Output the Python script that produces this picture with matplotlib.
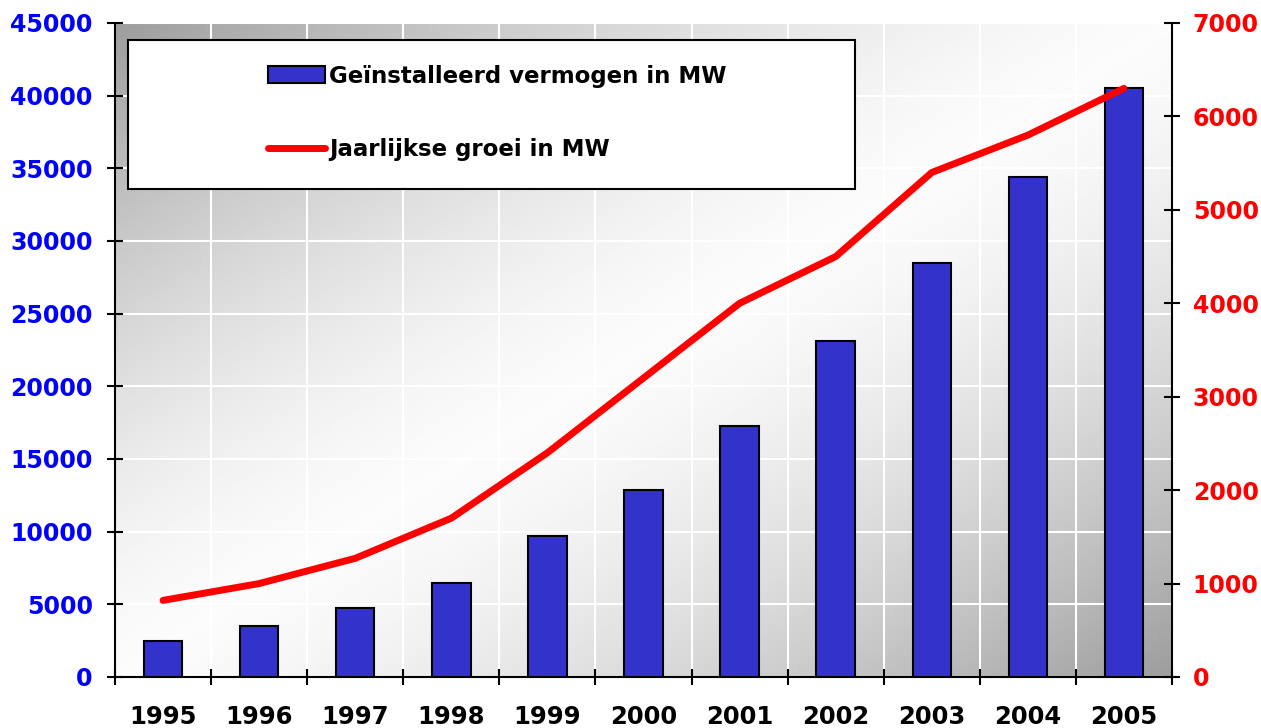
import numpy as np
import matplotlib
matplotlib.use("Agg")
import matplotlib.pyplot as plt
from matplotlib.patches import Rectangle

years = ["1995", "1996", "1997", "1998", "1999", "2000", "2001", "2002", "2003", "2004", "2005"]
installed_mw = [2500, 3500, 4750, 6500, 9700, 12900, 17300, 23100, 28500, 34370, 40500]
growth_mw = [820, 1000, 1270, 1700, 2400, 3200, 4000, 4500, 5400, 5800, 6300]
left_ticks = list(range(0, 45001, 5000))
right_ticks = list(range(0, 7001, 1000))
label_bar = "Geïnstalleerd vermogen in MW"
label_line = "Jaarlijkse groei in MW"

plt.rcParams['font.family'] = ['DejaVu Sans']
plt.rcParams['font.weight'] = 'bold'

fig = plt.figure(figsize=(12.61, 7.28), dpi=100)
ax = fig.add_axes([115/1261, 1-677/728, (1172-115)/1261, (677-23)/728])
ax2 = ax.twinx()

# gradient background
H, W = 300, 500
xx = np.linspace(0, 1, W)[None, :]
yy = np.linspace(1, 0, H)[:, None]
d = np.abs(xx - yy)
grad = 0.985 - 0.37 * d**1.5
ax.imshow(grad, extent=[0, 1, 0, 1], transform=ax.transAxes, aspect='auto',
          cmap='gray', vmin=0, vmax=1, zorder=0, origin='upper', interpolation='bilinear')

x = np.arange(len(years))
bars = ax.bar(x, installed_mw, width=0.4, color='#3333cc', edgecolor='black', linewidth=1.5, zorder=3)
line, = ax2.plot(x, growth_mw, color='#ff0000', lw=5, solid_capstyle='round',
                 solid_joinstyle='round', zorder=3)

ax.set_xlim(-0.5, len(years) - 0.5)
ax.set_ylim(0, 45000)
ax2.set_ylim(0, 7000)

ax.set_xticks(x)
ax.set_xticklabels(years, fontsize=17.5, fontweight='bold', color='black')
ax.set_xticks(np.arange(-0.5, len(years), 1.0), minor=True)
ax.tick_params(axis='x', which='major', length=0, pad=20)
ax.tick_params(axis='x', which='minor', length=12, width=1.5, direction='inout', color='black')
ax.set_yticks(left_ticks)
ax.set_yticklabels([str(v) for v in left_ticks], fontsize=17, fontweight='bold', color='#0000ff')
ax.tick_params(axis='y', length=12, width=1.5, direction='inout', pad=10)
ax2.set_yticks(right_ticks)
ax2.set_yticklabels([str(v) for v in right_ticks], fontsize=17, fontweight='bold', color='#ff0000')
ax2.tick_params(axis='y', length=12, width=1.5, direction='inout', pad=9)

ax.set_axisbelow(True)
ax.grid(True, axis='y', which='major', color='white', lw=1.5)
ax.grid(True, axis='x', which='minor', color='white', lw=1.5)
ax.grid(False, axis='x', which='major')

for a in (ax, ax2):
    a.spines['top'].set_visible(False)
    for s in ('left', 'right', 'bottom'):
        a.spines[s].set_linewidth(1.5)
        a.spines[s].set_color('black')
ax.spines['right'].set_visible(False)
ax2.spines['left'].set_visible(False)
ax2.spines['bottom'].set_visible(False)

# legend box
box = Rectangle(((128-115)/1057, (677-189)/654), (855-128)/1057, (189-40)/654,
                transform=ax2.transAxes, facecolor='white', edgecolor='black', lw=1.5, zorder=5)
ax2.add_patch(box)
leg = ax2.legend([bars, line], [label_bar, label_line], loc='center left',
                 bbox_to_anchor=((259-115)/1057, (677-113)/654), frameon=False,
                 prop={'size': 16.5, 'weight': 'bold'}, handlelength=2.5, handletextpad=0.15,
                 handleheight=0.75, labelspacing=2.2, borderaxespad=0)
leg.set_zorder(6)

fig.savefig("out.png", dpi=100, facecolor='white')
